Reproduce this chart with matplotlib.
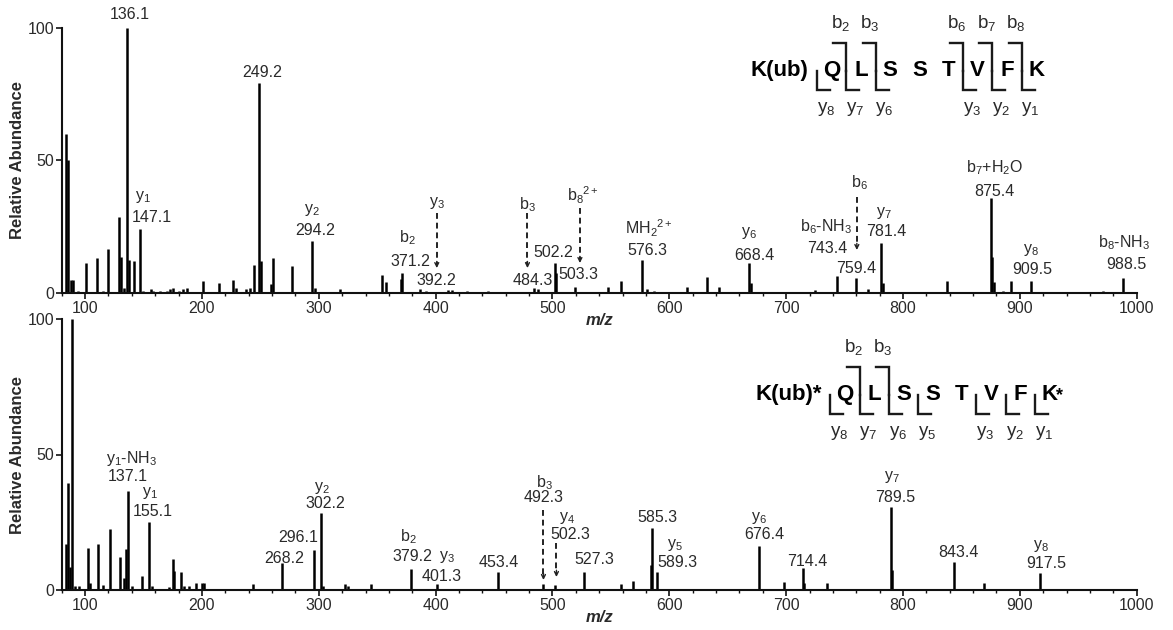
import matplotlib.pyplot as plt
from matplotlib.ticker import MultipleLocator

plt.rcParams["font.family"] = ["Liberation Sans", "DejaVu Sans"]
plt.rcParams["mathtext.fontset"] = "custom"
plt.rcParams["mathtext.rm"] = "Liberation Sans"
plt.rcParams["mathtext.it"] = "Liberation Sans:italic"
plt.rcParams["mathtext.bf"] = "Liberation Sans:bold"

TXT = "#2a2a2a"

# ---- spectrum 1: K(ub)QLSSTVFK ----
top_mz = [83.5, 85.5, 88, 90, 94, 101, 110.5, 115, 120, 129, 131, 133.5, 136.1, 138, 142,
          147.1, 150, 156, 158, 164, 170, 173, 175, 180, 184, 187, 200.5, 214.5, 226.5, 229,
          238, 241, 244.5, 249.2, 250.5, 259, 261, 277, 294.2, 297, 318.5, 354, 357.5, 370,
          371.2, 387, 392.2, 411, 414, 427, 445, 484.3, 488, 502.2, 503.3, 519, 547.5, 558.5,
          576.3, 581, 587, 615, 632, 642.5, 668.4, 669.5, 725, 743.4, 759.4, 770, 781.4,
          782.5, 838, 875.4, 876.5, 878, 886, 892.5, 909.5, 971, 988.5]
top_int = [60, 50, 5, 5, 1, 11.5, 13.4, 1, 16.6, 28.9, 13.8, 2, 100, 12.5, 12,
           24.3, 1, 1.5, 1, 1, 1, 1.5, 2, 1, 1.5, 2, 4.6, 4, 5, 2,
           1.5, 2, 10.7, 79.3, 12, 3.5, 13.2, 10.3, 19.7, 2, 1.5, 6.8, 4.4, 5.5,
           7.8, 1.5, 1, 1.3, 1.3, 1, 1, 2, 1.7, 11.3, 7.5, 2.5, 2.5, 4.6,
           12.5, 1.5, 1, 2.5, 6.3, 2.5, 11.3, 3.8, 1.2, 6.5, 5.6, 1.5, 19,
           3.8, 4.6, 35.8, 13.8, 4.4, 1, 4.6, 4.6, 1, 5.6]

top_ions = [
    (136.1, ""),
    (249.2, ""),
    (147.1, r"y$_\mathregular{1}$"),
    (294.2, r"y$_\mathregular{2}$"),
    (371.2, r"b$_\mathregular{2}$"),
    (392.2, r"y$_\mathregular{3}$"),
    (484.3, r"b$_\mathregular{3}$"),
    (502.2, ""),
    (503.3, r"b$_\mathregular{8}$$^\mathregular{2+}$"),
    (576.3, r"MH$_\mathregular{2}$$^\mathregular{2+}$"),
    (668.4, r"y$_\mathregular{6}$"),
    (743.4, r"b$_\mathregular{6}$-NH$_\mathregular{3}$"),
    (759.4, r"b$_\mathregular{6}$"),
    (781.4, r"y$_\mathregular{7}$"),
    (875.4, r"b$_\mathregular{7}$+H$_\mathregular{2}$O"),
    (909.5, r"y$_\mathregular{8}$"),
    (988.5, r"b$_\mathregular{8}$-NH$_\mathregular{3}$"),
]
top_seq = ["K(ub)", "Q", "L", "S", "S", "T", "V", "F", "K"]
top_b = [2, 3, 6, 7, 8]
top_y = [8, 7, 6, 3, 2, 1]

# ---- spectrum 2: K(ub)*QLSSTVFK* ----
bot_mz = [83.5, 85, 86.7, 88.5, 91, 94.5, 102.4, 104, 111, 115.5, 121, 130, 133.5, 135,
          137.1, 140, 148.7, 155.1, 157, 172, 175, 176.5, 182.4, 184.5, 189, 195, 200, 202,
          243.5, 268.2, 296.1, 302.2, 303.5, 322.5, 325, 345, 379.2, 401.3, 453.4, 492.3,
          502.3, 527.3, 558.5, 569, 584, 585.3, 589.3, 676.4, 698.5, 714.4, 715.5, 735,
          789.5, 791, 843.4, 869, 917.5]
bot_int = [16.9, 39.6, 8.6, 100, 1.6, 1.6, 15.4, 2.5, 16.9, 2, 22.5, 12, 4.3, 15,
           36.7, 1.5, 5.2, 25, 1.5, 1, 11.3, 7.1, 6.5, 1.5, 1.5, 2.7, 2.5, 2.7,
           2.2, 9.8, 14.8, 28.3, 1.5, 2.2, 1.5, 2.2, 7.6, 2.2, 6.8, 2.2,
           1.8, 6.5, 2.2, 3.4, 9.2, 22.8, 6.5, 16.4, 3.1, 8, 2.5, 2.5,
           30.8, 7.4, 10.2, 2.7, 6.2]

bot_ions = [
    (137.1, r"y$_\mathregular{1}$-NH$_\mathregular{3}$"),
    (155.1, r"y$_\mathregular{1}$"),
    (268.2, ""),
    (296.1, ""),
    (302.2, r"y$_\mathregular{2}$"),
    (379.2, r"b$_\mathregular{2}$"),
    (401.3, r"y$_\mathregular{3}$"),
    (453.4, ""),
    (492.3, r"b$_\mathregular{3}$"),
    (502.3, r"y$_\mathregular{4}$"),
    (527.3, ""),
    (585.3, ""),
    (589.3, r"y$_\mathregular{5}$"),
    (676.4, r"y$_\mathregular{6}$"),
    (714.4, ""),
    (789.5, r"y$_\mathregular{7}$"),
    (843.4, ""),
    (917.5, r"y$_\mathregular{8}$"),
]
bot_seq = ["K(ub)*", "Q", "L", "S", "S", "T", "V", "F", "K*"]
bot_b = [2, 3]
bot_y = [8, 7, 6, 5, 3, 2, 1]

# label placement: m/z -> (value x, value y, ion x, ion y) in data units
top_layout = {
    136.1: (138.6, 104.8, 0, 0), 249.2: (251.5, 83.2, 0, 0),
    147.1: (157.2, 28.4, 149.5, 36.3), 294.2: (297.1, 23.8, 294.3, 31.4),
    371.2: (378.5, 11.8, 375.4, 20.8), 392.2: (401, 5, 401, 34),
    484.3: (482.9, 5, 478.6, 33.2), 502.2: (501.1, 15.5, 0, 0),
    503.3: (522.5, 6.9, 526, 37), 576.3: (581.3, 16.3, 583, 24.6),
    668.4: (673, 14.4, 668.2, 22.7), 743.4: (735.5, 17, 734, 25),
    759.4: (760, 9.5, 762.4, 41.5), 781.4: (785.6, 23.1, 783.9, 30.2),
    875.4: (878.1, 38.5, 878.1, 47.2), 909.5: (910.7, 9.1, 909.8, 16.3),
    988.5: (991.2, 10.7, 989.5, 18.9),
}
top_arrows = {392.2: (401, 30.2, 9.5), 484.3: (478.6, 30.2, 9.5),
              503.3: (523.5, 32, 11.4), 759.4: (760.5, 36.3, 16.3)}

bot_layout = {
    137.1: (136.9, 41.7, 140.1, 48.7), 155.1: (157.5, 28.8, 155.7, 35.8),
    268.2: (270.6, 11.8, 0, 0), 296.1: (282.6, 19.2, 0, 0),
    302.2: (305.7, 32.1, 302.3, 37.6), 379.2: (380, 12.5, 376.9, 19.6),
    401.3: (405, 4.8, 409.4, 12.2), 453.4: (454.2, 10.3, 0, 0),
    492.3: (492.8, 34, 492.8, 39.5), 502.3: (515, 20.3, 512.8, 26.6),
    527.3: (535.4, 11.4, 0, 0), 585.3: (590, 26.9, 0, 0),
    589.3: (606.7, 10, 604.8, 16.6), 676.4: (681.3, 20.3, 677, 26.6),
    714.4: (717.9, 10.7, 0, 0), 789.5: (793, 34.3, 790.7, 41.8),
    843.4: (847.5, 14, 0, 0), 917.5: (922.4, 9.6, 918.4, 16.2),
}
bot_arrows = {492.3: (492.3, 29.5, 3.7), 502.3: (503.4, 17.3, 4.8)}

W, H = 1173, 630
fig = plt.figure(figsize=(W / 100, H / 100), dpi=100)
ax_top = fig.add_axes([61.7 / W, 1 - 293.3 / H, 1075 / W, 265.6 / H])
ax_bot = fig.add_axes([61.7 / W, 1 - 590 / H, 1075 / W, 271 / H])


def style_axis(ax):
    ax.set_facecolor("none")
    ax.set_xlim(80, 1000)
    ax.set_ylim(0, 100)
    for s in ("top", "right"):
        ax.spines[s].set_visible(False)
    for s in ("left", "bottom"):
        ax.spines[s].set_linewidth(1.5)
        ax.spines[s].set_color("#111111")
    ax.xaxis.set_major_locator(MultipleLocator(100))
    ax.xaxis.set_minor_locator(MultipleLocator(20))
    ax.set_yticks([0, 50, 100])
    ax.tick_params(which="major", length=4, width=1.2, pad=1.5,
                   labelsize=11.5, labelcolor=TXT, color="#111111")
    ax.tick_params(which="minor", length=2.2, width=1.0, color="#111111")
    ax.set_xlabel("m/z", fontsize=12, fontweight="bold", fontstyle="italic", color=TXT)
    ax.xaxis.set_label_coords(0.5, -0.075)
    ax.set_ylabel("Relative Abundance", fontsize=12, fontweight="bold", color=TXT)
    ax.yaxis.set_label_coords(-0.034, 0.5)


def draw_spectrum(ax, mz, inten, ions, layout, arrows):
    ax.vlines(mz, 0, inten, color="black", lw=1.8)
    for m, ion in ions:
        vx, vy, ix, iy = layout[m]
        ax.text(vx, vy, f"{m:.1f}", ha="center", va="center", fontsize=11.5,
                color=TXT, clip_on=False)
        if ion:
            ax.text(ix, iy, ion, ha="center", va="center", fontsize=11.5,
                    color=TXT, clip_on=False)
    for x, y0, y1 in arrows.values():
        ax.plot([x, x], [y0, y1 + 1], ls=(0, (3, 2)), lw=1.4, color="#222222")
        ax.annotate("", xy=(x, y1), xytext=(x, y1 + 2.5),
                    arrowprops=dict(arrowstyle="->", lw=1.0, color="#222222",
                                    shrinkA=0, shrinkB=0, mutation_scale=7))


style_axis(ax_top)
style_axis(ax_bot)
draw_spectrum(ax_top, top_mz, top_int, top_ions, top_layout, top_arrows)
draw_spectrum(ax_bot, bot_mz, bot_int, bot_ions, bot_layout, bot_arrows)

# fragmentation maps, drawn in pixel units on an overlay
ov = fig.add_axes([0, 0, 1, 1])
ov.set_xlim(0, W)
ov.set_ylim(H, 0)
ov.axis("off")
ov.patch.set_alpha(0)


def draw_sequence(seq, b_ions, y_ions, x0, yc, step=29.2):
    n = len(seq)
    lc = "#1a1a1a"
    ov.text(x0 - 23, yc + 8, seq[0], ha="right", va="baseline", fontsize=16,
            fontweight="bold", color="black")
    for i in range(1, n):
        x = x0 + (i - 1) * step
        res = seq[i]
        ov.text(x, yc + 8, res[0], ha="center", va="baseline", fontsize=16,
                fontweight="bold", color="black")
        if res.endswith("*"):
            ov.text(x + 7, yc + 8, "*", ha="left", va="baseline", fontsize=13,
                    fontweight="bold", color="black")

    def site_x(k):
        return x0 + (k - 1.5) * step

    top, bot, mid, arm = yc - 25, yc + 22, yc + 3, 13
    for k in b_ions:
        xs = site_x(k)
        ov.plot([xs - arm, xs, xs], [top, top, mid], color=lc, lw=1.7,
                solid_joinstyle="miter")
        ov.text(xs - 6, yc - 45, rf"b$_\mathregular{{{k}}}$", ha="center",
                va="center", fontsize=13.5, color=TXT)
    for k in y_ions:
        xs = site_x(n - k)
        ov.plot([xs, xs, xs + arm], [mid, bot, bot], color=lc, lw=1.7,
                solid_joinstyle="miter")
        ov.text(xs + 9, yc + 41, rf"y$_\mathregular{{{k}}}$", ha="center",
                va="center", fontsize=13.5, color=TXT)


draw_sequence(top_seq, top_b, top_y, 831.7, 68)
draw_sequence(bot_seq, bot_b, bot_y, 845, 391.7)

fig.savefig("out.png", dpi=100)
